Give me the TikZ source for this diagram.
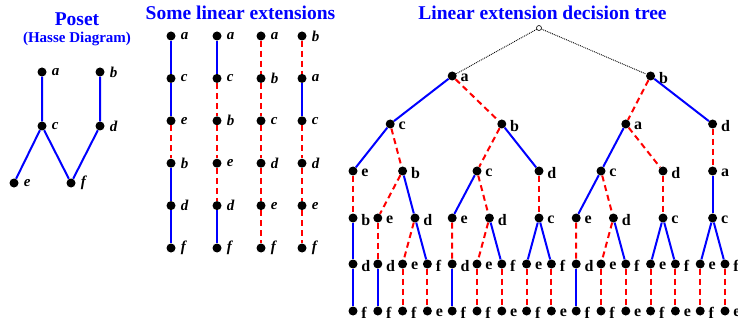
\documentclass[tikz,border=0pt]{standalone}
\usepackage{fontspec}
\setmainfont{Liberation Serif}
\usetikzlibrary{positioning}

\begin{document}
\begin{tikzpicture}[x=1pt, y=-1pt,
    dot/.style={circle, fill=black, inner sep=0pt, minimum size=9pt},
    cov/.style={blue, line width=2pt},
    gap/.style={red, line width=2pt, dash pattern=on 6pt off 4pt},
    ttl/.style={blue, font=\bfseries\fontsize{19.5}{22}\selectfont, anchor=base},
    it/.style={font=\bfseries\itshape\fontsize{15}{17}\selectfont, inner sep=5pt},
    tl/.style={font=\bfseries\fontsize{16}{18}\selectfont, inner sep=3.5pt, yshift=-2pt}]
  \useasboundingbox (0,0) rectangle (738,323);

  \node[ttl] (tposet) at (77,26) {Poset};
  \node[ttl, font=\bfseries\fontsize{15}{17}\selectfont] (thasse) at (77,43) {(Hasse Diagram)};
  \node[ttl] (tlin) at (240.5,19.5) {Some linear extensions};
  \node[ttl] (ttree) at (542.5,19.5) {Linear extension decision tree};

  \node[dot, label={[it]right:a}] (pa) at (42,72) {};
  \node[dot, label={[it]right:b}] (pb) at (100,72) {};
  \node[dot, label={[it]right:c}] (pc) at (42,126) {};
  \node[dot, label={[it]right:d}] (pd) at (100,126) {};
  \node[dot, label={[it]right:e}] (pe) at (14,183) {};
  \node[dot, label={[it]right:f}] (pf) at (71,183) {};
  \draw[cov] (pa) -- (pc) -- (pe);
  \draw[cov] (pc) -- (pf);
  \draw[cov] (pb) -- (pd) -- (pf);

  \foreach \i/\xx/\col in {1/171/{a,c,e,b,d,f}, 2/217/{a,c,b,e,d,f},
      3/261/{a,b,c,d,e,f}, 4/302/{b,a,c,d,e,f}}
    \foreach \lb [count=\j] in \col
      \node[dot, label={[it]right:\lb}] (l\i\lb) at (\xx,{36+42.4*(\j-1)}) {};
  \draw[cov] (l1a) -- (l1c) -- (l1e);
  \draw[gap] (l1e) -- (l1b);
  \draw[cov] (l1b) -- (l1d) -- (l1f);
  \draw[cov] (l2a) -- (l2c);
  \draw[gap] (l2c) -- (l2b) -- (l2e) -- (l2d);
  \draw[cov] (l2d) -- (l2f);
  \draw[gap] (l3a) -- (l3b) -- (l3c) -- (l3d) -- (l3e) -- (l3f);
  \draw[gap] (l4b) -- (l4a);
  \draw[cov] (l4a) -- (l4c);
  \draw[gap] (l4c) -- (l4d) -- (l4e) -- (l4f);

  \node[circle, draw, fill=white, inner sep=0pt, minimum size=5pt, line width=0.6pt] (t) at (539,28) {};
  \foreach \pa/\lb/\xx in {t/a/452.2, t/b/650.6} {
    \node[dot, label={[tl]right:\lb}] (\pa\lb) at (\xx,76) {};
    \draw[densely dotted, line width=0.9pt] (\pa) -- (\pa\lb);
  }
  \foreach \pa/\lb/\xx/\st in {ta/c/390.2/cov, ta/b/501.8/gap, tb/a/625.8/gap, tb/d/712.6/cov} {
    \node[dot, label={[tl]right:\lb}] (\pa\lb) at (\xx,124) {};
    \draw[\st] (\pa) -- (\pa\lb);
  }
  \foreach \pa/\lb/\xx/\st in {tac/e/353/cov, tac/b/402.6/gap, tab/c/477/gap, tab/d/539/cov,
      tba/c/601/cov, tba/d/663/gap, tbd/a/712.6/gap} {
    \node[dot, label={[tl]right:\lb}] (\pa\lb) at (\xx,171) {};
    \draw[\st] (\pa) -- (\pa\lb);
  }
  \foreach \pa/\lb/\xx/\st in {tace/b/353/gap, tacb/e/377.8/gap, tacb/d/415/cov,
      tabc/e/452.2/cov, tabc/d/489.4/gap, tabd/c/539/gap, tbac/e/576.2/cov,
      tbac/d/613.4/gap, tbad/c/663/gap, tbda/c/712.6/cov} {
    \node[dot, label={[tl]right:\lb}] (\pa\lb) at (\xx,218) {};
    \draw[\st] (\pa) -- (\pa\lb);
  }
  \foreach \pa/\lb/\st [count=\i from 0] in {taceb/d/cov, tacbe/d/gap, tacbd/e/gap,
      tacbd/f/cov, tabce/d/gap, tabcd/e/gap, tabcd/f/cov, tabdc/e/cov, tabdc/f/cov,
      tbace/d/gap, tbacd/e/gap, tbacd/f/cov, tbadc/e/cov, tbadc/f/cov, tbdac/e/cov,
      tbdac/f/cov} {
    \node[dot, label={[tl]right:\lb}] (\pa\lb) at ({353+24.8*\i},264) {};
    \draw[\st] (\pa) -- (\pa\lb);
  }
  \foreach \pa/\lb/\st [count=\i from 0] in {tacebd/f/cov, tacbed/f/cov, tacbde/f/gap,
      tacbdf/e/gap, tabced/f/cov, tabcde/f/gap, tabcdf/e/gap, tabdce/f/gap,
      tabdcf/e/gap, tbaced/f/cov, tbacde/f/gap, tbacdf/e/gap, tbadce/f/gap,
      tbadcf/e/gap, tbdace/f/gap, tbdacf/e/gap} {
    \node[dot, label={[tl]right:\lb}] (\pa\lb) at ({353+24.8*\i},311) {};
    \draw[\st] (\pa) -- (\pa\lb);
  }
\end{tikzpicture}
\end{document}
